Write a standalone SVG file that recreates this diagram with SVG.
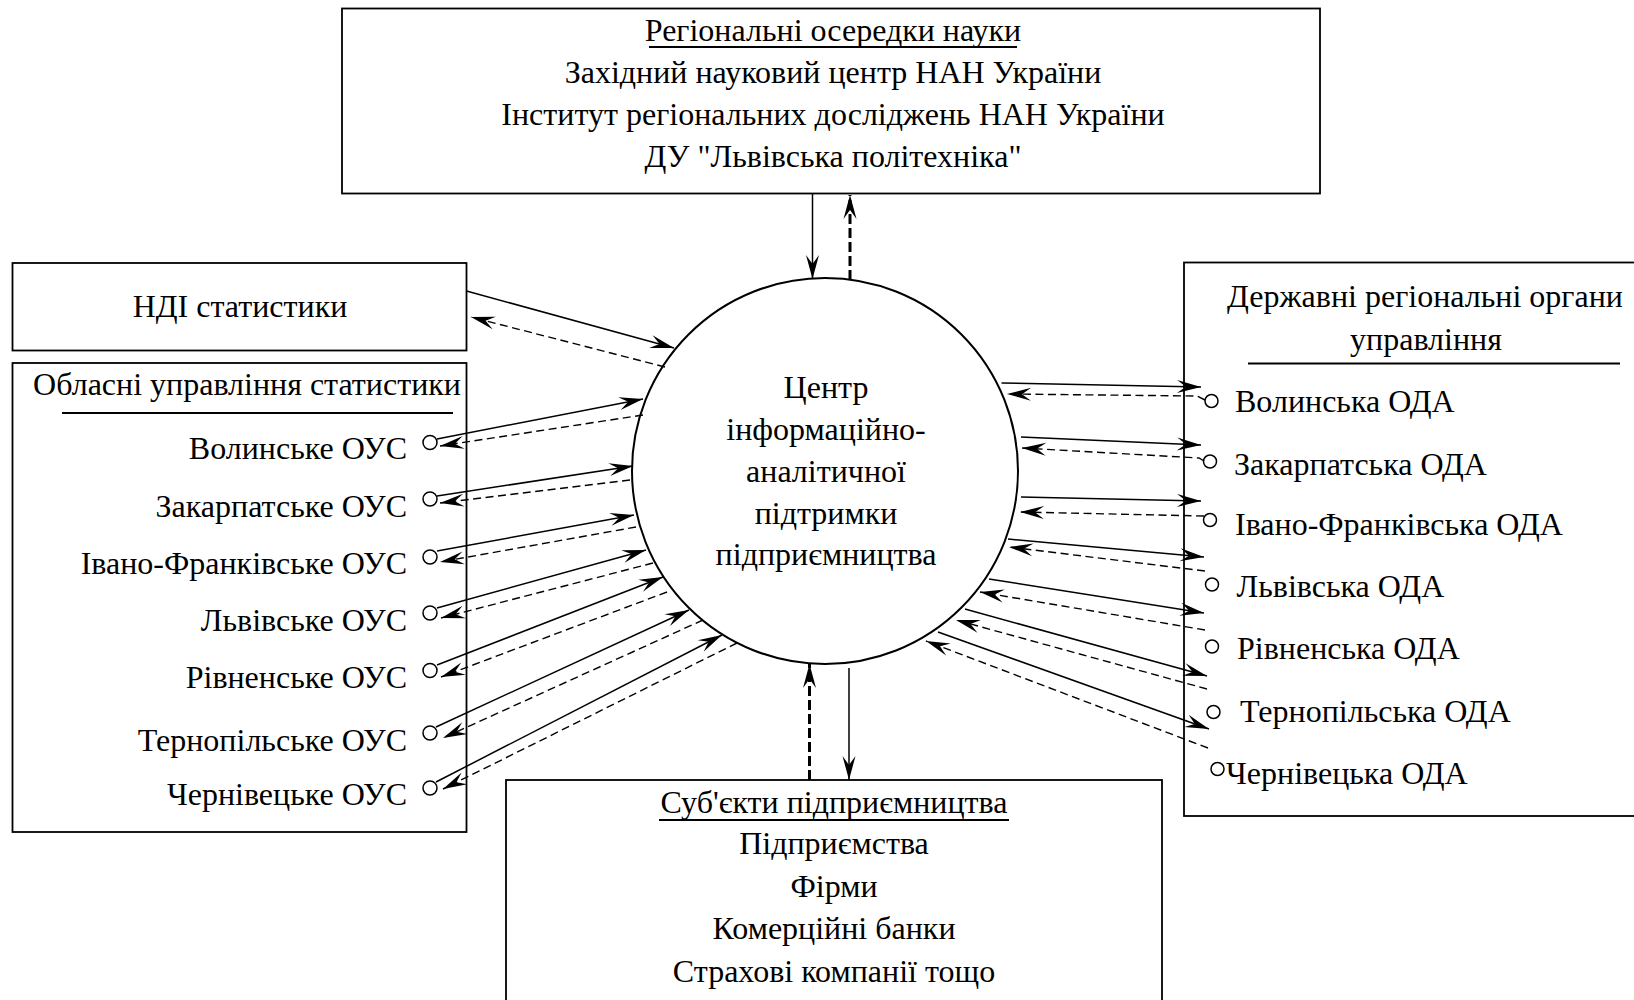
<svg xmlns="http://www.w3.org/2000/svg" width="1634" height="1000" viewBox="0 0 1634 1000">
<defs>
<style>
.box{fill:#fff;stroke:#000;stroke-width:1.8}
.t{font-family:"Liberation Serif","Times New Roman",serif;font-size:32px;fill:#000}
.c{text-anchor:middle}
.e{text-anchor:end}
.ul{stroke:#000;stroke-width:2}
.s{fill:none;stroke:#000;stroke-width:1.5;marker-end:url(#arr)}
.d{fill:none;stroke:#000;stroke-width:1.4;stroke-dasharray:8 4.5;marker-end:url(#arr)}
.dv{fill:none;stroke:#000;stroke-width:3;stroke-dasharray:10 4;marker-end:url(#arr)}
.pt{fill:#fff;stroke:#000;stroke-width:1.5}
</style>
<marker id="arr" viewBox="-26 -8 28 16" refX="0" refY="0" markerWidth="28" markerHeight="16" orient="auto" markerUnits="userSpaceOnUse">
<path d="M0,0 L-24,-6.5 L-15,0 L-24,6.5 Z" fill="#000"/>
</marker>
</defs>
<rect width="1634" height="1000" fill="#fff"/>

<g id="science">
<rect class="box" x="342" y="8.5" width="978" height="185"/>
<text class="t c" x="833" y="41">Регіональні осередки науки</text>
<line class="ul" x1="649" y1="47" x2="1017" y2="47"/>
<text class="t c" x="833" y="83">Західний науковий центр НАН України</text>
<text class="t c" x="833" y="125">Інститут регіональних досліджень НАН України</text>
<text class="t c" x="833" y="167">ДУ "Львівська політехніка"</text>
</g>

<g id="ndi">
<rect class="box" x="12.5" y="263" width="454" height="87.5"/>
<text class="t c" x="240" y="317">НДІ статистики</text>
</g>

<g id="ous">
<rect class="box" x="12.5" y="363" width="454" height="469"/>
<text class="t c" x="247" y="395">Обласні управління статистики</text>
<line class="ul" x1="62" y1="413" x2="453" y2="413"/>
<text class="t e" x="407" y="459">Волинське ОУС</text>
<text class="t e" x="407" y="516.5">Закарпатське ОУС</text>
<text class="t e" x="407" y="574">Івано-Франківське ОУС</text>
<text class="t e" x="407" y="631">Львівське ОУС</text>
<text class="t e" x="407" y="688">Рівненське ОУС</text>
<text class="t e" x="407" y="751">Тернопільське ОУС</text>
<text class="t e" x="407" y="804.5">Чернівецьке ОУС</text>
<circle class="pt" cx="430" cy="442.5" r="7"/>
<circle class="pt" cx="430" cy="499" r="7"/>
<circle class="pt" cx="430" cy="557" r="7"/>
<circle class="pt" cx="430" cy="613" r="7"/>
<circle class="pt" cx="430" cy="670.5" r="7"/>
<circle class="pt" cx="430" cy="733" r="7"/>
<circle class="pt" cx="430" cy="788" r="7"/>
</g>

<g id="oda">
<rect class="box" x="1184" y="262.5" width="470" height="553.5"/>
<text class="t c" x="1425" y="307">Державні регіональні органи</text>
<text class="t c" x="1426" y="350">управління</text>
<line class="ul" x1="1248" y1="363.5" x2="1620" y2="363.5"/>
<text class="t" x="1235" y="412">Волинська ОДА</text>
<text class="t" x="1234" y="474.5">Закарпатська ОДА</text>
<text class="t" x="1235" y="535">Івано-Франківська ОДА</text>
<text class="t" x="1236.5" y="597">Львівська ОДА</text>
<text class="t" x="1237" y="659">Рівненська ОДА</text>
<text class="t" x="1240" y="722">Тернопільська ОДА</text>
<text class="t" x="1226" y="784">Чернівецька ОДА</text>
<circle class="pt" cx="1211.5" cy="401" r="6.5"/>
<circle class="pt" cx="1210" cy="461.5" r="6.5"/>
<circle class="pt" cx="1210" cy="520" r="6.5"/>
<circle class="pt" cx="1212" cy="584.5" r="6.5"/>
<circle class="pt" cx="1212" cy="646.5" r="6.5"/>
<circle class="pt" cx="1213.5" cy="712" r="6.5"/>
<circle class="pt" cx="1217.5" cy="769" r="6.5"/>
</g>

<g id="business">
<rect class="box" x="506" y="780" width="656" height="240"/>
<text class="t c" x="834" y="813">Суб'єкти підприємництва</text>
<line class="ul" x1="659" y1="820" x2="1009" y2="820" stroke-width="2.5"/>
<text class="t c" x="834" y="853.5">Підприємства</text>
<text class="t c" x="834" y="896.5">Фірми</text>
<text class="t c" x="834" y="938.5">Комерційні банки</text>
<text class="t c" x="834" y="981.5">Страхові компанії тощо</text>
</g>

<g id="center">
<circle cx="825" cy="471" r="193" fill="#fff" stroke="#000" stroke-width="2"/>
<text class="t c" x="826" y="398">Центр</text>
<text class="t c" x="826" y="440">інформаційно-</text>
<text class="t c" x="826" y="482">аналітичної</text>
<text class="t c" x="826" y="523.5">підтримки</text>
<text class="t c" x="826" y="565">підприємництва</text>
</g>

<g id="connectors">
<path class="s" d="M812.5,194 L812.5,279"/>
<path class="dv" d="M850,280 L850,195"/>
<path class="s" d="M466.5,291 L674,348"/>
<path class="d" d="M665,367 L471,317"/>
<path class="dv" d="M809.5,780 L809.5,664"/>
<path class="s" d="M849,668 L849,780"/>

<path class="s" d="M437,439 L643,399"/>
<path class="d" d="M643,415 L440,446"/>
<path class="s" d="M437,496 L633,466"/>
<path class="d" d="M630,480 L440,503"/>
<path class="s" d="M437,551 L634,515"/>
<path class="d" d="M636,527 L440,562"/>
<path class="s" d="M437,608 L646,550"/>
<path class="d" d="M653,563 L441,618"/>
<path class="s" d="M437,665 L663,577"/>
<path class="d" d="M667,592 L441,677"/>
<path class="s" d="M436,727 L689,610"/>
<path class="d" d="M703,620 L443,738"/>
<path class="s" d="M436,782 L722,635"/>
<path class="d" d="M737,643 L443,789"/>

<path class="s" d="M1001.5,383 L1201,387"/>
<path class="d" d="M1205,400 L1197,396 L1007,394"/>
<path class="s" d="M1021,437 L1201,445"/>
<path class="d" d="M1204,461 L1199,458 L1022,448"/>
<path class="s" d="M1021,497 L1201,501"/>
<path class="d" d="M1204,516 L1020,512"/>
<path class="s" d="M1008,539 L1204,557"/>
<path class="d" d="M1205,571 L1009,547"/>
<path class="s" d="M989,579 L1204,613"/>
<path class="d" d="M1205,630 L980,592"/>
<path class="s" d="M965,609 L1207,676"/>
<path class="d" d="M1207,689 L956,620"/>
<path class="s" d="M938,632 L1209,729"/>
<path class="d" d="M1208,748 L926,641"/>
</g>
</svg>
